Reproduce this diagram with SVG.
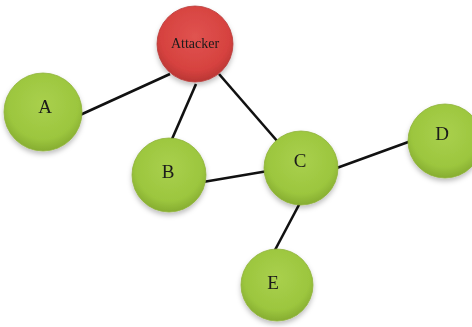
<svg xmlns="http://www.w3.org/2000/svg" width="472" height="327" viewBox="0 0 472 327">
  <style>
    .edge { stroke: #111; stroke-width: 2.6; fill: none; }
    .green { fill: url(#gGreen); stroke: #8fb33a; stroke-width: 0.8; }
    .red { fill: url(#gRed); stroke: #b83a38; stroke-width: 0.8; }
    .lbl { font-family: "Liberation Serif", "Times New Roman", serif; font-size: 19px; fill: #1a1a1a; text-anchor: middle; dominant-baseline: central; }
    .small { font-size: 14px; }
  </style>
  <defs>
    <radialGradient id="gGreen" cx="50%" cy="40%" r="60%">
      <stop offset="0" stop-color="#a9d04d"/>
      <stop offset="0.75" stop-color="#9cc63e"/>
      <stop offset="1" stop-color="#86ad31"/>
    </radialGradient>
    <radialGradient id="gRed" cx="50%" cy="40%" r="60%">
      <stop offset="0" stop-color="#e05350"/>
      <stop offset="0.75" stop-color="#d6423f"/>
      <stop offset="1" stop-color="#b93634"/>
    </radialGradient>
    <filter id="shadow" x="-20%" y="-20%" width="140%" height="150%">
      <feDropShadow dx="0" dy="3" stdDeviation="2.5" flood-color="#000" flood-opacity="0.25"/>
    </filter>
  </defs>
  <rect width="472" height="327" fill="#ffffff"/>

  <g id="connectors">
    <line class="edge" x1="80" y1="115" x2="170" y2="74"/>
    <line class="edge" x1="196" y1="84" x2="169" y2="146"/>
    <line class="edge" x1="219" y1="74" x2="278" y2="142"/>
    <line class="edge" x1="203" y1="182" x2="268" y2="171"/>
    <line class="edge" x1="334" y1="169" x2="411" y2="141"/>
    <line class="edge" x1="301" y1="201" x2="275" y2="250"/>
  </g>

  <g id="node-attacker" filter="url(#shadow)">
    <circle class="red" cx="195" cy="44" r="38"/>
    <text class="lbl small" x="195" y="43">Attacker</text>
  </g>
  <g id="node-a" filter="url(#shadow)">
    <circle class="green" cx="43" cy="112" r="39"/>
    <text class="lbl" x="45" y="106">A</text>
  </g>
  <g id="node-b" filter="url(#shadow)">
    <circle class="green" cx="169" cy="175" r="37"/>
    <text class="lbl" x="168" y="171">B</text>
  </g>
  <g id="node-c" filter="url(#shadow)">
    <circle class="green" cx="301" cy="168" r="37"/>
    <text class="lbl" x="300" y="160">C</text>
  </g>
  <g id="node-d" filter="url(#shadow)">
    <circle class="green" cx="445" cy="141" r="37"/>
    <text class="lbl" x="442" y="133">D</text>
  </g>
  <g id="node-e" filter="url(#shadow)">
    <circle class="green" cx="277" cy="285" r="36"/>
    <text class="lbl" x="273" y="282">E</text>
  </g>
</svg>
